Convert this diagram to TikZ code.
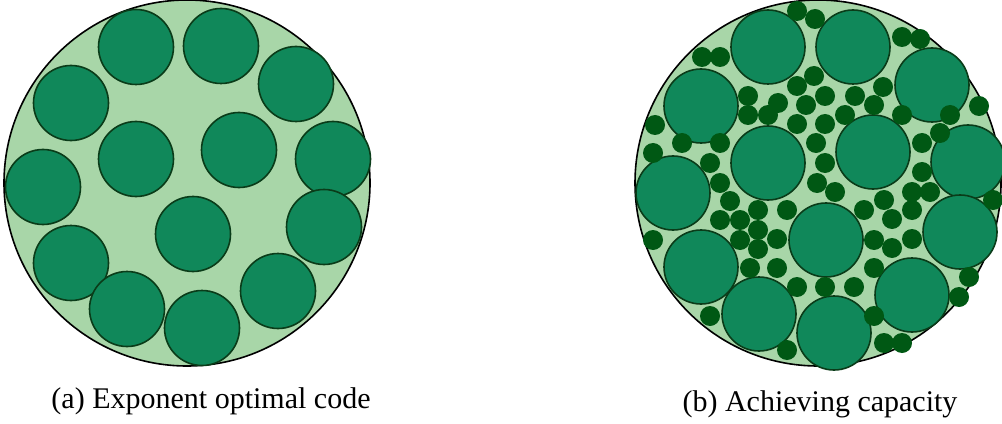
\documentclass[tikz,border=0pt]{standalone}
\usepackage{fontspec}
\setmainfont{Liberation Serif}

\definecolor{discfill}{RGB}{168,214,168}
\definecolor{codefill}{RGB}{16,136,90}
\definecolor{codeline}{RGB}{10,60,25}
\definecolor{dotfill}{RGB}{0,88,20}

\tikzset{every picture/.style={line width=0.75pt}}
\tikzset{
  disc/.style={draw=black, fill=discfill, line width=1.2pt},
  codeword/.style={draw=codeline, fill=codefill, line width=1.2pt},
  smalldot/.style={fill=dotfill, draw=none},
  caption/.style={anchor=base, inner sep=0.75pt, font=\fontsize{22.5}{26}\selectfont}
}

\begin{document}
\begin{tikzpicture}[x=0.75pt,y=0.75pt,yscale=-1,xscale=1]
	\useasboundingbox (0,0) rectangle (1002,424);
	
	%Shape: Circle [id:left disc] 
	\draw [disc] (187,183) circle (183);
	%Shape: Circles [id:left codewords] 
	\foreach \cx/\cy in {136/47, 221/46, 296/84, 71/103, 136/159, 239/150, 333/159,
	                     43/187, 193/234, 324/227, 71/263, 127/309, 202/328, 278/291}
	  \draw [codeword] (\cx,\cy) circle (37.5);
	
	%Shape: Circle [id:right disc] 
	\draw [disc] (818,183) circle (183);
	%Shape: Circles [id:right codewords] 
	\foreach \cx/\cy in {768/47, 853/47, 932/85, 701/106, 768/163, 873/152, 968/162,
	                     673/193, 826/240, 960/232, 701/267, 759/314, 834/333, 912/295}
	  \draw [codeword] (\cx,\cy) circle (37);
	%Shape: Circles [id:right small dots] 
	\foreach \cx/\cy in {797/11, 815/19, 702/57, 720/57, 902/37, 920/39, 814/76, 797/86,
	                     748/96, 778/103, 806/105, 825/96, 855/96, 883/87, 874/105, 979/106,
	                     748/115, 768/115, 797/124, 825/124, 845/115, 902/115, 950/115,
	                     655/125, 682/143, 720/143, 653/153, 816/143, 940/133, 922/143,
	                     710/163, 825/163, 922/172, 720/183, 817/183, 835/192, 912/192,
	                     930/192, 730/201, 884/200, 993/200, 758/210, 787/210, 864/210,
	                     912/210, 720/220, 740/220, 892/219, 758/230, 740/240, 777/239,
	                     874/240, 912/239, 758/249, 892/248, 653/240, 750/268, 777/268,
	                     874/268, 797/287, 825/287, 854/287, 969/277, 959/297, 710/316,
	                     874/316, 787/350, 884/343, 902/343}
	  \fill [smalldot] (\cx,\cy) circle (10);
	
	% Text Node
	\node [caption] (capA) at (211,408) {(a) Exponent optimal code};
	% Text Node
	\node [caption] (capB) at (820,411) {(b) Achieving capacity};
	
\end{tikzpicture}
\end{document}
